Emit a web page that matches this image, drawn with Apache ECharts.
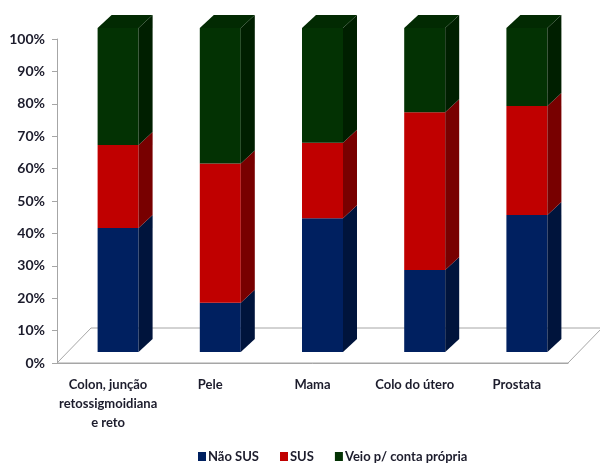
<!DOCTYPE html>
<html><head><meta charset="utf-8">
<script src="https://cdn.jsdelivr.net/npm/echarts@6/dist/echarts.min.js"></script>
<style>html,body{margin:0;padding:0;background:#fff}#c{width:600px;height:465px}</style>
</head><body><div id="c"></div>
<script>
const categories = ['Colon, junção\nretossigmoidiana\ne reto', 'Pele', 'Mama', 'Colo do útero', 'Prostata'];
const naoSUS = [38.3, 15.2, 41.3, 25.3, 42.3];
const sus = [25.6, 43.0, 23.3, 48.7, 33.6];
const veio = [36.1, 41.8, 35.4, 26.0, 24.1];
const seriesNames = ['Não SUS', 'SUS', 'Veio p/ conta própria'];

const FONT = 'Lato, "Liberation Sans Narrow", sans-serif';
const TXT = '#1c1c2c';
const DX = 10, DY = -11, W = 41, SX = 14, SY = -13;
const FLOOR_X = 34, FLOOR_Y = -35;

const colors = [
  {front: '#002060', side: '#00143c', top: '#001a50'},
  {front: '#c00000', side: '#780000', top: '#a00000'},
  {front: '#033203', side: '#001f00', top: '#022a02'}
];

const allSeries = [naoSUS, sus, veio];
const stacked = allSeries.map((arr, s) => arr.map((v, i) => {
  let b = 0;
  for (let k = 0; k < s; k++) b += allSeries[k][i];
  return [i, b, b + v];
}));

function makeRender(s, isTop) {
  return function (params, api) {
    const i = api.value(0), b = api.value(1), t = api.value(2);
    const pb = api.coord([i, b]), pt = api.coord([i, t]);
    const cx = pb[0] + DX, yb = pb[1] + DY, yt = pt[1] + DY;
    const xl = cx - W / 2, xr = cx + W / 2;
    const c = colors[s];
    const children = [
      {type: 'rect', shape: {x: xl, y: yt, width: W, height: yb - yt}, style: {fill: c.front}},
      {type: 'polygon', shape: {points: [[xr, yb], [xr + SX, yb + SY], [xr + SX, yt + SY], [xr, yt]]}, style: {fill: c.side}}
    ];
    if (isTop) {
      children.push({type: 'polygon', shape: {points: [[xl, yt], [xr, yt], [xr + SX, yt + SY], [xl + SX, yt + SY]]}, style: {fill: c.top}});
    }
    return {type: 'group', children: children};
  };
}

const series = [{
  type: 'custom',
  name: 'floor',
  silent: true,
  z: 1,
  clip: false,
  data: [[0]],
  renderItem: function (params, api) {
    const cs = params.coordSys;
    const x0 = cs.x, y0 = cs.y + cs.height, w = cs.width;
    return {type: 'polygon', shape: {points: [[x0, y0], [x0 + w, y0], [x0 + w + FLOOR_X, y0 + FLOOR_Y], [x0 + FLOOR_X, y0 + FLOOR_Y]]},
      style: {fill: '#fff', stroke: '#a6a6a6', lineWidth: 1}};
  }
}];
seriesNames.forEach((name, s) => {
  series.push({
    type: 'custom',
    name: name,
    z: 3,
    clip: false,
    itemStyle: {color: colors[s].front},
    encode: {x: 0, y: [1, 2]},
    data: stacked[s],
    renderItem: makeRender(s, s === seriesNames.length - 1)
  });
});

const chart = echarts.init(document.getElementById('c'), null, {renderer: 'canvas'});
chart.setOption({
  animation: false,
  grid: {left: 57, right: 32, top: 39, bottom: 102},
  xAxis: {
    type: 'category',
    data: categories,
    axisLine: {lineStyle: {color: '#a6a6a6'}},
    axisTick: {length: 5, lineStyle: {color: '#a6a6a6'}},
    axisLabel: {interval: 0, margin: 12, color: TXT, fontFamily: FONT, fontWeight: 'bold', fontSize: 13, lineHeight: 19},
    z: 5
  },
  yAxis: {
    type: 'value',
    min: 0, max: 100, interval: 10,
    axisLine: {show: true, lineStyle: {color: '#a6a6a6'}},
    axisTick: {show: true, length: 5, lineStyle: {color: '#a6a6a6'}},
    splitLine: {show: false},
    axisLabel: {formatter: '{value}%', margin: 12, color: TXT, fontFamily: FONT, fontWeight: 'bold', fontSize: 14},
    z: 5
  },
  legend: {
    data: seriesNames,
    left: 193, top: 445,
    icon: 'rect', itemWidth: 8, itemHeight: 9, itemGap: 21,
    textStyle: {color: TXT, fontFamily: FONT, fontWeight: 'bold', fontSize: 13, padding: [0, 0, 0, -3]}
  },
  series: series
});
</script></body></html>
